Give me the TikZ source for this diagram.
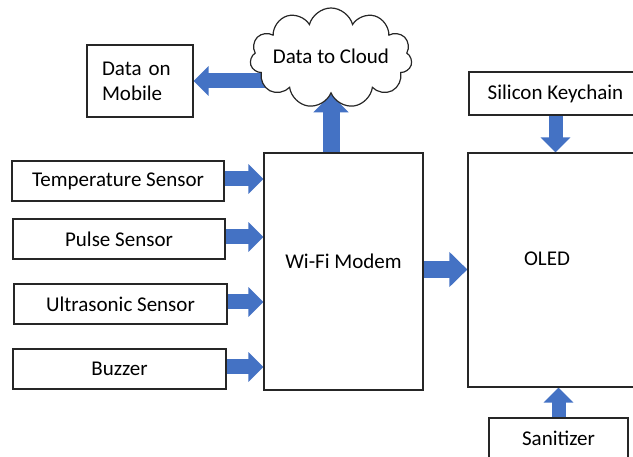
\documentclass[tikz,border=0pt]{standalone}
\usepackage{fontspec}
\setmainfont{Carlito}
\usetikzlibrary{shapes.symbols,arrows.meta,backgrounds}
\definecolor{arrblue}{HTML}{4472C4}
\tikzset{
    blk/.style={draw=black!85, line width=1.2pt, fill=white, minimum height=40pt, inner sep=0pt},
    fat/.style={arrblue, line width=15pt, -{Triangle[length=15pt,width=29pt]}},
    fatter/.style={arrblue, line width=17pt, -{Triangle[length=18pt,width=34pt]}},
}

\begin{document}
\begin{tikzpicture}[x=1pt, y=-1pt, font=\fontsize{21}{25}\selectfont]
    \useasboundingbox (0,0) rectangle (633,457);
    \clip (0,0) rectangle (633,457);
    \node[blk, minimum width=106pt, minimum height=72pt, text width=76pt, align=left] (mobile) at (140,81) {Data on\\Mobile};
    \node[cloud, draw=black!85, line width=1.2pt, fill=white, cloud puffs=11, aspect=1.62, inner sep=0pt, minimum width=162pt, minimum height=100pt, label={[yshift=2pt]center:Data to Cloud}] (cloud) at (331,58) {};
    \node[blk, minimum width=212pt] (temp) at (118,181) {Temperature Sensor};
    \node[blk, minimum width=212pt] (pulse) at (119,239) {Pulse Sensor};
    \node[blk, minimum width=213pt] (ultra) at (120.5,304) {Ultrasonic Sensor};
    \node[blk, minimum width=213pt] (buzz) at (119.5,369) {Buzzer};
    \node[blk, minimum width=159pt, minimum height=237pt, label={[yshift=10pt]center:Wi-Fi Modem}] (modem) at (343.5,271.5) {};
    \node[blk, minimum width=300pt, minimum height=234pt] (oled) at (618,270) {};
    \node (oledtxt) at (547,259) {OLED};
    \node[blk, minimum width=173pt, minimum height=43pt] (key) at (555.5,93.5) {Silicon Keychain};
    \node[blk, minimum width=139pt] (san) at (558.5,438) {Sanitizer};

    \begin{scope}[on background layer]
        \draw[fat] ([xshift=20pt]cloud.west |- mobile.east) -- (mobile.east);
        \draw[fatter] (cloud.south |- modem.north) -- (cloud.south);
        \foreach \s in {temp,pulse,ultra,buzz}
            \draw[fat] ([yshift=2pt]\s.east) -- ([yshift=2pt]\s.east -| modem.west);
        \draw[fatter] ([yshift=2pt]modem.east) -- ([yshift=2pt]modem.east -| oled.west);
        \draw[fat, line width=14pt] (key.south) -- (key.south |- oled.north);
        \draw[fat, line width=14pt] (san.north) -- (san.north |- oled.south);
    \end{scope}
\end{tikzpicture}
\end{document}
